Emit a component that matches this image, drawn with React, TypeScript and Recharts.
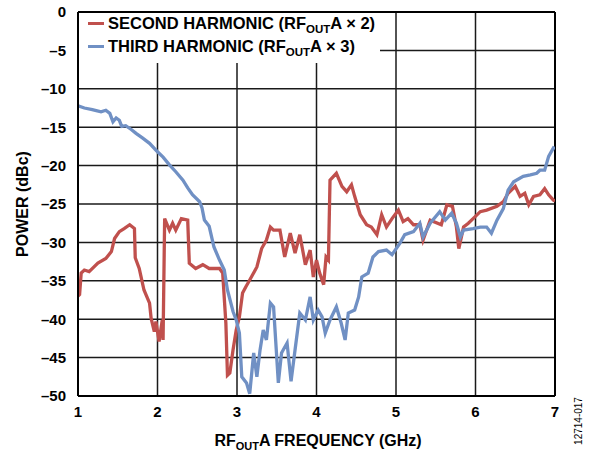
import React from 'react'
import { LineChart, Line, XAxis, YAxis, CartesianGrid, Label, ReferenceLine } from 'recharts'

// ── data (GHz, dBc) ────────────────────────────────────────────
const secondFreq = [
  1.0, 1.02, 1.04, 1.08, 1.14, 1.25, 1.35, 1.42, 1.46, 1.52, 1.58, 1.65, 1.71, 1.72, 1.77, 1.83, 1.9, 1.92,
  1.96, 1.98, 2.02, 2.06, 2.07, 2.09, 2.15, 2.19, 2.23, 2.3, 2.38, 2.4, 2.48, 2.57, 2.65, 2.78, 2.82, 2.86,
  2.88, 2.91, 2.95, 2.99, 3.03, 3.07, 3.11, 3.16, 3.25, 3.31, 3.37, 3.42, 3.46, 3.54, 3.6, 3.67, 3.73, 3.79,
  3.86, 3.92, 3.96, 4.0, 4.04, 4.09, 4.12, 4.15, 4.17, 4.25, 4.32, 4.38, 4.44, 4.48, 4.55, 4.63, 4.69, 4.76,
  4.82, 4.88, 4.95, 5.03, 5.09, 5.15, 5.22, 5.3, 5.34, 5.43, 5.57, 5.64, 5.71, 5.76, 5.79, 5.85, 5.91, 5.97,
  6.06, 6.14, 6.27, 6.35, 6.41, 6.5, 6.56, 6.62, 6.67, 6.73, 6.81, 6.87, 6.92, 6.98, 7.0,
]
const secondPower = [
  -37.0, -36.8, -34.0, -33.6, -33.8, -32.7, -32.1, -31.2, -29.5, -28.6, -28.2, -27.7, -28.2, -32.0, -33.4, -36.2, -37.9, -39.9,
  -41.6, -40.3, -42.9, -40.1, -42.7, -26.9, -28.4, -27.5, -28.4, -26.9, -27.1, -32.7, -33.4, -32.9, -33.4, -33.4, -34.0, -40.5,
  -47.3, -47.0, -44.0, -41.4, -39.7, -36.6, -35.8, -34.9, -33.2, -30.8, -29.7, -28.0, -28.4, -28.4, -31.9, -28.8, -31.4, -29.0,
  -32.9, -31.0, -34.5, -32.3, -34.0, -35.5, -31.9, -32.3, -21.9, -21.0, -22.7, -23.4, -22.5, -24.0, -26.4, -27.7, -28.0, -29.0,
  -26.4, -28.0, -26.9, -25.8, -27.3, -26.9, -27.7, -27.7, -29.7, -27.1, -27.7, -25.1, -25.3, -28.0, -30.8, -28.0, -27.5, -26.9,
  -26.0, -25.8, -25.3, -24.7, -23.6, -22.7, -24.0, -23.6, -25.1, -24.0, -23.8, -23.0, -23.8, -24.5, -24.6,
]

const thirdFreq = [
  1.0, 1.08, 1.18, 1.29, 1.35, 1.4, 1.44, 1.48, 1.52, 1.55, 1.6, 1.67, 1.73, 1.81, 1.9, 2.0, 2.07, 2.15,
  2.23, 2.32, 2.38, 2.44, 2.53, 2.56, 2.59, 2.65, 2.69, 2.71, 2.78, 2.84, 2.88, 2.95, 2.99, 3.03, 3.06, 3.12,
  3.16, 3.21, 3.25, 3.29, 3.33, 3.37, 3.42, 3.46, 3.52, 3.56, 3.63, 3.68, 3.73, 3.79, 3.86, 3.92, 3.96, 4.02,
  4.07, 4.11, 4.17, 4.25, 4.31, 4.36, 4.4, 4.48, 4.53, 4.57, 4.65, 4.71, 4.78, 4.88, 4.95, 5.05, 5.11, 5.22,
  5.3, 5.34, 5.43, 5.55, 5.62, 5.7, 5.76, 5.81, 5.85, 5.97, 6.06, 6.14, 6.2, 6.27, 6.35, 6.41, 6.48, 6.6,
  6.69, 6.77, 6.81, 6.87, 6.92, 6.98, 7.0,
]
const thirdPower = [
  -12.2, -12.5, -12.7, -13.0, -12.8, -13.2, -14.3, -13.8, -14.1, -14.9, -14.8, -15.3, -15.8, -16.4, -17.1, -18.2, -18.9, -19.9,
  -20.8, -21.9, -22.9, -23.8, -24.7, -25.5, -27.1, -27.9, -29.7, -30.6, -32.3, -33.6, -36.2, -39.0, -40.1, -41.8, -47.5, -48.3,
  -49.7, -44.4, -47.5, -44.0, -41.4, -42.7, -37.9, -38.4, -48.3, -44.4, -43.1, -48.1, -44.0, -39.2, -40.1, -37.1, -40.1, -38.8,
  -39.7, -41.8, -40.1, -38.4, -40.5, -42.7, -39.2, -38.8, -37.1, -34.5, -34.0, -31.9, -31.2, -31.0, -31.6, -30.1, -29.0, -28.6,
  -27.5, -29.3, -27.5, -26.0, -27.1, -26.2, -27.5, -29.3, -28.4, -28.2, -28.0, -28.0, -28.8, -27.1, -25.6, -23.2, -22.1, -21.4,
  -21.2, -21.0, -20.6, -20.6, -18.8, -17.7, -17.8,
]

const xTicks = [1, 2, 3, 4, 5, 6, 7]
const yTicks = [0, -5, -10, -15, -20, -25, -30, -35, -40, -45, -50]

const RED = '#c0504d'
const BLUE = '#7090c4'
const FONT = '"Liberation Sans", Arial, sans-serif'

const secondData = secondFreq.map((f, i) => ({ f, p: secondPower[i] }))
const thirdData = thirdFreq.map((f, i) => ({ f, p: thirdPower[i] }))

const fmtY = (v: number) => (v < 0 ? '\u2013' + Math.abs(v) : String(v))

// legend sits over the top-left corner of the plot, white box hides the grid
function LegendBox() {
  const rows = [
    { color: RED, text: 'SECOND HARMONIC (RF', tail: 'A × 2)' },
    { color: BLUE, text: 'THIRD HARMONIC (RF', tail: 'A × 3)' },
  ]
  return (
    <div style={{ position: 'absolute', left: 79, top: 13, width: 301, height: 50, background: '#fff', fontFamily: FONT }}>
      {rows.map((r, i) => (
        <div key={i} style={{ position: 'absolute', left: 0, top: i * 23, height: 20, width: 301 }}>
          <div style={{ position: 'absolute', left: 9, top: 9, width: 16, height: 3, background: r.color }} />
          <div style={{ position: 'absolute', left: 29, top: 0, fontSize: 16.5, fontWeight: 'bold', color: '#000', whiteSpace: 'nowrap', lineHeight: '20px' }}>
            {r.text}
            <span style={{ fontSize: 11.5, position: 'relative', top: 4 }}>OUT</span>
            {r.tail}
          </div>
        </div>
      ))}
    </div>
  )
}

export default function App() {
  return (
    <div style={{ position: 'absolute', left: 0, top: 0, width: 592, height: 452, background: '#fff' }}>
      <LineChart width={592} height={452} margin={{ top: 12, right: 37, bottom: 26, left: 18 }}>
        <CartesianGrid stroke="#1a1a1a" strokeWidth={1.5} horizontalValues={yTicks} verticalValues={xTicks} />
        <XAxis
          type="number"
          dataKey="f"
          domain={[1, 7]}
          ticks={xTicks}
          height={30}
          tickLine={false}
          tickMargin={4}
          axisLine={{ stroke: '#000', strokeWidth: 2 }}
          tick={{ fill: '#000', fontSize: 15, fontWeight: 'bold', fontFamily: FONT }}
          allowDataOverflow
        >
          <Label
            content={() => (
              <text x={318} y={446} textAnchor="middle" fontFamily={FONT} fontSize={16} fontWeight="bold" fill="#000">
                RF
                <tspan fontSize={11} dy={4}>OUT</tspan>
                <tspan dy={-4}>A FREQUENCY (GHz)</tspan>
              </text>
            )}
          />
        </XAxis>
        <YAxis
          type="number"
          domain={[-50, 0]}
          ticks={yTicks}
          width={60}
          tickLine={false}
          tickMargin={6}
          tickFormatter={fmtY}
          axisLine={{ stroke: '#000', strokeWidth: 2 }}
          tick={{ fill: '#000', fontSize: 15, fontWeight: 'bold', fontFamily: FONT }}
          allowDataOverflow
        >
          <Label
            content={() => (
              <text
                x={22}
                y={204}
                textAnchor="middle"
                dominantBaseline="central"
                transform="rotate(-90, 22, 204)"
                fontFamily={FONT}
                fontSize={16}
                fontWeight="bold"
                fill="#000"
              >
                POWER (dBc)
              </text>
            )}
          />
        </YAxis>
        <ReferenceLine y={0} stroke="#000" strokeWidth={2} />
        <ReferenceLine x={7} stroke="#000" strokeWidth={2} />
        <Line
          data={secondData}
          dataKey="p"
          type="linear"
          stroke={RED}
          strokeWidth={3.3}
          dot={false}
          isAnimationActive={false}
          name="SECOND HARMONIC"
        />
        <Line
          data={thirdData}
          dataKey="p"
          type="linear"
          stroke={BLUE}
          strokeWidth={3.3}
          dot={false}
          isAnimationActive={false}
          name="THIRD HARMONIC"
        />
      </LineChart>
      <LegendBox />
      <div
        style={{
          position: 'absolute',
          left: 578,
          top: 421,
          transform: 'translate(-50%, -50%) rotate(-90deg)',
          fontFamily: FONT,
          fontSize: 10,
          color: '#000',
          whiteSpace: 'nowrap',
        }}
      >
        12714-017
      </div>
    </div>
  )
}
